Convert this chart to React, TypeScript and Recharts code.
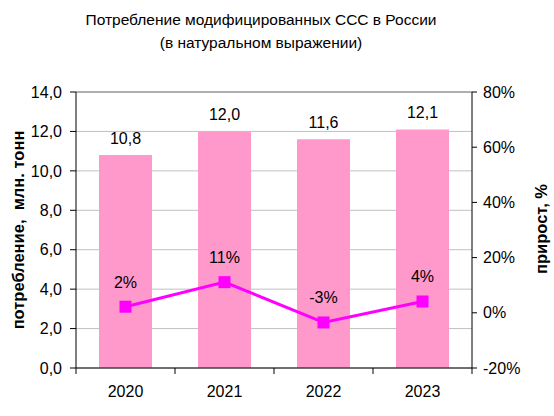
import React from 'react';
import {
  ComposedChart, Bar, Line, XAxis, YAxis, CartesianGrid, LabelList, ReferenceLine,
} from 'recharts';

const years = ['2020', '2021', '2022', '2023'];
const consumption = [10.8, 12.0, 11.6, 12.1];
const growth = [2.2, 11.1, -3.5, 4.1];
const leftTicks = [0, 2, 4, 6, 8, 10, 12, 14];
const rightTicks = [-20, 0, 20, 40, 60, 80];

const data = years.map((y, i) => ({ year: y, value: consumption[i], growth: growth[i] }));

const FONT = '"Liberation Sans", Arial, sans-serif';
const FS = 16;
const fmt1 = (v: number) => v.toFixed(1).replace('.', ',');

const XTick = (props: any) => {
  const { x, y, payload, index } = props;
  const half = payload && payload.offset ? payload.offset : 49;
  return (
    <g>
      <line x1={x - half} y1={y - 8} x2={x - half} y2={y - 2} stroke="#000" strokeWidth={1} />
      {index === years.length - 1 && (
        <line x1={x + half} y1={y - 8} x2={x + half} y2={y - 2} stroke="#000" strokeWidth={1} />
      )}
      <text x={x} y={y + 21} textAnchor="middle" fontSize={FS} fontFamily={FONT} fill="#000">
        {payload.value}
      </text>
    </g>
  );
};

const Square = (props: any) => {
  const { cx, cy } = props;
  if (cx == null || cy == null) return null;
  return <rect x={cx - 6} y={cy - 6} width={12} height={12} fill="#FF00FF" />;
};

export default function App() {
  return (
    <div style={{ position: 'absolute', left: 0, top: 0, width: 554, height: 416, background: '#fff' }}>
      <div
        style={{
          position: 'absolute', left: 0, top: 8, width: 522, textAlign: 'center',
          fontFamily: FONT, fontSize: 15.5, lineHeight: '23px', color: '#000',
        }}
      >
        Потребление модифицированных ССС в России
        <br />
        (в натуральном выражении)
      </div>
      <ComposedChart
        width={554}
        height={416}
        data={data}
        margin={{ top: 92, right: 0, bottom: 0, left: 0 }}
      >
        <CartesianGrid yAxisId="left" vertical={false} stroke="#C0C0C0" />
        <ReferenceLine yAxisId="left" y={14} stroke="#808080" />
        <XAxis
          dataKey="year"
          height={48}
          axisLine={{ stroke: '#000' }}
          tickLine={false}
          tick={<XTick />}
          interval={0}
        />
        <YAxis
          yAxisId="left"
          width={76}
          domain={[0, 14]}
          ticks={leftTicks}
          interval={0}
          tickFormatter={fmt1}
          axisLine={{ stroke: '#000' }}
          tickLine={{ stroke: '#000' }}
          tickSize={6}
          tickMargin={8}
          tick={{ fontSize: FS, fontFamily: FONT, fill: '#000' }}
          label={{
            content: () => (
              <text
                x={18}
                y={230}
                transform="rotate(-90 18 230)"
                textAnchor="middle"
                dominantBaseline="central"
                fontSize={16.5}
                fontWeight="bold"
                fontFamily={FONT}
                fill="#000"
                style={{ whiteSpace: 'pre' }}
              >
                потребление,  млн. тонн
              </text>
            ),
          }}
        />
        <YAxis
          yAxisId="right"
          orientation="right"
          width={82}
          domain={[-20, 80]}
          ticks={rightTicks}
          interval={0}
          tickFormatter={(v: number) => `${v}%`}
          axisLine={{ stroke: '#000' }}
          tickLine={{ stroke: '#000' }}
          tickSize={5}
          tickMargin={6}
          tick={{ fontSize: FS, fontFamily: FONT, fill: '#000' }}
          label={{
            content: () => (
              <text
                x={541}
                y={229}
                transform="rotate(-90 541 229)"
                textAnchor="middle"
                dominantBaseline="central"
                fontSize={16.5}
                fontWeight="bold"
                fontFamily={FONT}
                fill="#000"
              >
                прирост, %
              </text>
            ),
          }}
        />
        <Bar yAxisId="left" dataKey="value" fill="#FF99CC" barSize={53} isAnimationActive={false}>
          <LabelList
            dataKey="value"
            position="top"
            offset={11}
            formatter={(v: any) => fmt1(Number(v))}
            style={{ fontSize: FS, fontFamily: FONT, fill: '#000' }}
          />
        </Bar>
        <Line
          yAxisId="right"
          dataKey="growth"
          stroke="#FF00FF"
          strokeWidth={3}
          dot={<Square />}
          activeDot={false}
          isAnimationActive={false}
        >
          <LabelList
            dataKey="growth"
            position="top"
            offset={19}
            formatter={(v: any) => `${Math.round(Number(v))}%`}
            style={{ fontSize: FS, fontFamily: FONT, fill: '#000' }}
          />
        </Line>
      </ComposedChart>
    </div>
  );
}
